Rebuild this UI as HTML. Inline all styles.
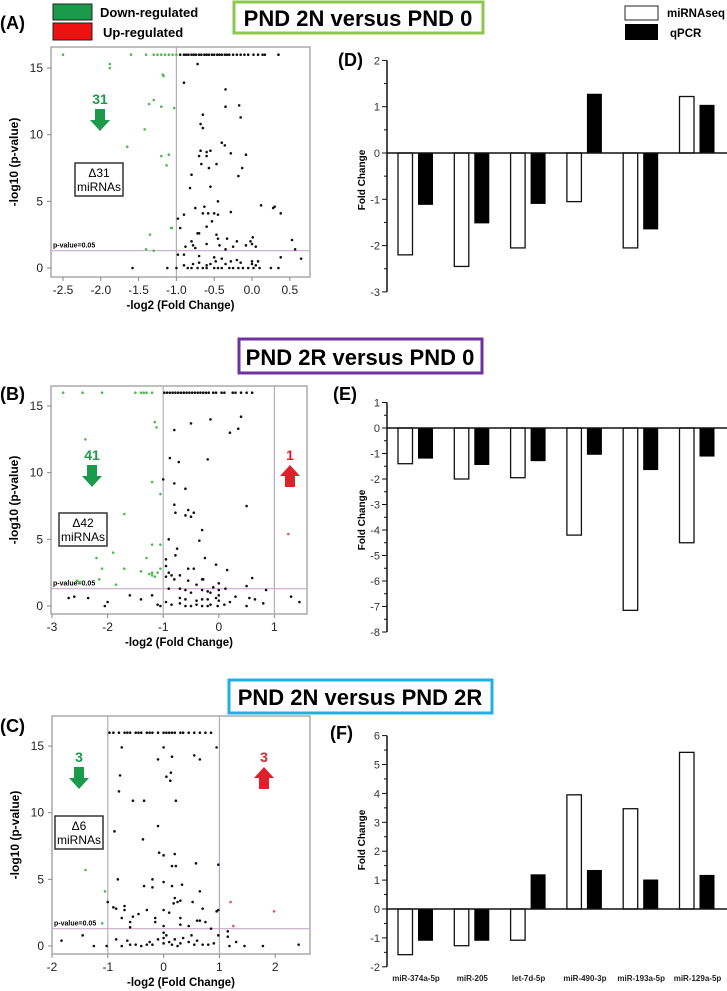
<!DOCTYPE html>
<html><head><meta charset="utf-8"><style>
body{margin:0;background:#fff;width:727px;height:991px;overflow:hidden}
svg{display:block;font-family:"Liberation Sans",Arial,sans-serif}
</style></head><body>
<svg id="fig" width="727" height="991" viewBox="0 0 727 991">
<g>
<rect x="53" y="4" width="39" height="16" fill="#1a9a4a" stroke="#222"/>
<text x="100" y="17" font-size="13" font-weight="bold">Down-regulated</text>
<rect x="53" y="23" width="39" height="17" fill="#ee1111" stroke="#222"/>
<text x="103" y="37" font-size="13" font-weight="bold">Up-regulated</text>
</g>
<g>
<rect x="625" y="6" width="33" height="14" fill="#fff" stroke="#222"/>
<text x="667" y="17" font-size="11.5" font-weight="bold" textLength="58" lengthAdjust="spacingAndGlyphs">miRNAseq</text>
<rect x="625" y="24" width="33" height="16" fill="#000"/>
<text x="670" y="37" font-size="11.5" font-weight="bold">qPCR</text>
</g>
<rect x="234" y="2" width="249" height="31" fill="#fff" stroke="#8cc84b" stroke-width="3"/>
<text x="358" y="26" font-size="22" font-weight="bold" text-anchor="middle">PND 2N versus PND 0</text>
<rect x="239" y="339" width="243" height="34" fill="#fff" stroke="#7030a0" stroke-width="3"/>
<text x="360" y="365" font-size="22" font-weight="bold" text-anchor="middle">PND 2R versus PND 0</text>
<rect x="229" y="680" width="263" height="33" fill="#fff" stroke="#1fb0e6" stroke-width="3"/>
<text x="360" y="705" font-size="22" font-weight="bold" text-anchor="middle">PND 2N versus PND 2R</text>
<text x="0" y="29" font-size="18" font-weight="bold">(A)</text>
<text x="338" y="66" font-size="18" font-weight="bold">(D)</text>
<text x="0" y="400" font-size="18" font-weight="bold">(B)</text>
<text x="333" y="400" font-size="18" font-weight="bold">(E)</text>
<text x="0" y="732" font-size="18" font-weight="bold">(C)</text>
<text x="330" y="739" font-size="18" font-weight="bold">(F)</text>
</svg>
<script>
const aGreen=[[-2.5,16],[-1.6,16],[-1.4,16],[-1.3,16],[-1.25,16],[-1.2,16],[-1.15,16],[-1.1,16],[-1.05,16],[-1.0,16],[-1.88,15.3],[-1.88,15],[-1.18,14.5],[-1.17,14.4],[-1.3,12.6],[-1.36,12.3],[-1.2,12.1],[-1.03,12],[-1.42,10.4],[-1.65,9.1],[-1.2,8.4],[-1.1,8.5],[-1.13,7.7],[-1.07,3],[-1.06,3],[-1.35,2.5],[-1.4,1.4],[-1.3,1.3]];
const aRed=[];
const aTopX=[-0.95,-0.9,-0.87,-0.84,-0.8,-0.77,-0.74,-0.7,-0.67,-0.63,-0.6,-0.57,-0.53,-0.5,-0.46,-0.43,-0.4,-0.36,-0.33,-0.3,-0.25,-0.2,-0.15,-0.1,-0.05,0.02,0.08,0.14,0.17,0.35];
const aBlack=[[-0.72,15.3],[-0.9,13.9],[-0.35,13.4],[-0.35,12.1],[-0.17,12.2],[-0.15,11.3],[-0.65,11.5],[-0.68,10.8],[-0.65,10.5],[-0.4,9.4],[-0.36,9.2],[-0.68,8.8],[-0.6,8.7],[-0.55,8.8],[-0.7,8.4],[-0.6,8.4],[-0.28,8.6],[-0.08,8.5],[-0.67,7.8],[-0.47,7.8],[-0.57,7.5],[-0.13,7.5],[-0.8,7],[-0.18,6.9],[-0.82,6],[-0.55,6.1],[-0.45,5],[0.12,4.7],[0.28,4.5],[0.3,4.6],[0.38,4.1],[-0.75,4.5],[-0.63,4.6],[-0.9,4],[-0.65,4.1],[-0.58,4.1],[-0.5,4.1],[-0.45,4],[-0.28,4.2],[-0.98,3.7],[-0.6,3.1],[-0.53,3.5],[-0.95,3],[-0.72,2.6],[-0.7,2.6],[-0.47,2.5],[-0.45,2.2],[-0.33,2.2],[-0.2,2],[-0.02,2],[0.01,2.3],[0.53,2.1],[-0.8,2],[-0.78,1.7],[-0.75,1.5],[-0.88,1.6],[-0.6,1.8],[-0.43,1.7],[-0.35,1.4],[-0.25,1.6],[-0.08,1.7],[0,1.8],[0.05,1.6],[0.57,1.4],[-0.9,1],[-0.98,1],[-0.7,0.9],[-0.5,0.8],[-0.4,0.7],[-0.2,0.6],[0,0.5],[0.38,0.8],[0.65,0.7],[-1.58,0],[-1.12,0],[-1.0,0],[-0.85,0],[-0.8,0],[-0.72,0],[-0.65,0],[-0.6,0],[-0.5,0],[-0.45,0],[-0.4,0],[-0.3,0],[-0.25,0],[-0.18,0],[-0.12,0],[-0.05,0],[0.02,0],[0.1,0],[0.25,0],[0.35,0],[-0.55,0.3],[-0.35,0.3],[-0.15,0.4],[0.05,0.2],[-0.7,0.4],[-0.9,0.2],[-0.48,0.5],[-0.28,0.5],[0.0,0.3],[0.08,0.5],[-0.6,0.2],[-0.78,0.3]];
const aXTicks=[-2.5,-2.0,-1.5,-1.0,-0.5,0,0.5];
const bGreen=[[-2.8,16],[-2.45,16],[-2.1,16],[-1.5,16],[-1.4,16],[-1.35,16],[-1.3,16],[-1.2,16],[-1.15,13.8],[-1.12,13.4],[-2.4,12.5],[-1.2,9.3],[-1.05,8.4],[-1.7,6.9],[-1.2,4.6],[-1.05,4.6],[-2.2,3.6],[-1.9,4],[-1.3,3.6],[-2.1,2.8],[-1.7,2.8],[-1.4,2.6],[-1.2,2.5],[-1.25,2.4],[-1.15,2.2],[-1.05,2.8],[-2.15,2],[-1.85,1.6],[-2.5,1.8],[-2.55,1.9],[-1.1,2.5],[-1.2,2.3]];
const bRed=[[1.25,5.4]];
const bTopX=[-0.98,-0.93,-0.88,-0.83,-0.78,-0.73,-0.68,-0.63,-0.58,-0.53,-0.48,-0.43,-0.38,-0.33,-0.28,-0.23,-0.18,-0.1,-0.05,0.05,0.1,0.25,0.3,0.4,0.5,0.6];
const bBlack=[[0.4,14.2],[-0.15,14],[0.35,13.3],[-0.5,13.7],[-0.8,13.2],[0.2,13],[-0.88,11.1],[-0.72,10.8],[-0.2,11],[-1.0,9.5],[-0.8,9.2],[-0.6,8.8],[-0.8,7.6],[-0.55,7.2],[-0.45,7],[-0.78,7],[-0.6,6.8],[-0.5,6.7],[0.5,7.5],[-0.3,5.7],[-0.9,5],[-0.35,4.9],[-0.75,4.3],[-0.78,3.8],[-0.25,3.6],[-0.95,3.5],[-0.05,3.1],[-0.45,2.8],[-0.55,2.8],[0.15,2.7],[-0.95,3],[-0.9,2.5],[-0.85,2.3],[-0.7,2.3],[-0.95,2.2],[-0.8,2],[-0.55,1.9],[-0.3,2],[-0.28,2],[0.6,2.1],[-0.4,1.6],[-0.1,1.4],[0.5,1.5],[0.85,1.2],[-0.9,1.3],[-0.7,1.3],[-0.6,1.2],[-0.5,1],[-0.3,1.2],[-0.2,1.1],[-0.15,1],[0,1.7],[0.12,1.3],[-0.7,0.6],[-0.6,0.5],[-0.4,0.4],[-0.2,0.5],[-0.05,0.6],[0.3,0.7],[0.55,0.6],[0.65,0.5],[0.8,0.2],[1.3,0.7],[1.45,0.3],[-2.7,0.6],[-2.6,0.7],[-2.35,0.6],[-2.05,0],[-2.0,0.3],[-1.6,0.8],[-1.4,0.5],[-1.05,0],[-0.95,0.3],[-0.6,0],[-0.5,0],[-0.4,0.1],[-0.3,0],[-0.2,0],[-0.02,0],[0,0.4],[0.2,0.3],[0.5,0],[-0.7,0.2],[-0.85,0.1],[-0.15,0.1],[0.0,0.8],[0.0,1.2],[-1.1,0.1],[-1.2,0.8],[-0.3,0.5],[0.1,0.1]];
const bXTicks=[-3,-2,-1,0,1];
const cGreen=[[-1.4,5.7],[-1.05,4.1],[-1.1,1.7]];
const cRed=[[1.2,3.3],[1.25,1.5],[1.98,2.6]];
const cTopX=[-0.97,-0.9,-0.8,-0.7,-0.65,-0.6,-0.5,-0.45,-0.4,-0.3,-0.25,-0.2,-0.1,0,0.05,0.1,0.15,0.2,0.3,0.35,0.45,0.55,0.65,0.75,0.85];
const cBlack=[[-0.75,14.9],[0,14.9],[0.95,14.9],[-0.1,14],[0.15,14.2],[0.55,14.3],[0.65,14],[-0.78,12.8],[0.05,12.7],[0.12,12.4],[0.13,13],[-0.8,11.6],[-0.55,10.9],[-0.35,10.9],[0.22,10.9],[-0.1,9],[-0.88,8.6],[-0.37,8],[-0.08,7],[0,6.8],[0.2,6.9],[0.15,6],[0.22,6],[0.58,6.2],[0.98,6.1],[-0.82,5],[-0.2,5],[-0.2,4.4],[0,4.8],[0.15,4.5],[0.33,4.6],[-0.35,4.5],[0.65,4.1],[-1.0,3.3],[0.2,3.6],[0.25,3.3],[0.3,3.4],[0.52,3.3],[-0.9,2.9],[-0.85,2.8],[-0.7,3],[-0.7,2.7],[-0.3,2.7],[0.0,2.7],[0.1,2.5],[0.18,3.2],[0.7,2.8],[0.95,2.6],[0.98,2.7],[-0.75,2.1],[-0.55,2.2],[-0.45,2.4],[-0.15,2.1],[0.3,2.1],[0.6,1.9],[0.65,1.9],[0.75,1.8],[-0.6,1.8],[-0.6,1.4],[-0.15,1.8],[0,1.5],[0.3,1.6],[0.45,1.5],[0.85,1.3],[0.98,0.8],[1.15,1.1],[1.15,0.7],[1.3,0.3],[1.45,0],[1.78,0],[2.42,0.1],[-1.83,0.4],[-1.45,0.8],[-1.25,0],[-1.02,0],[-0.85,0.5],[-0.75,0],[-0.6,0.1],[-0.5,0.1],[-0.4,0],[-0.3,0.1],[-0.2,0.1],[-0.1,0.5],[0,0.2],[0,0.6],[0,1],[0.05,0.8],[0.1,0.3],[0.15,0.1],[0.2,0.5],[0.3,0.2],[0.35,0.6],[0.45,0.3],[0.55,0.1],[0.6,0.4],[0.7,0.1],[0.8,0.1],[0.9,0.2],[-0.65,0.4],[-0.25,0.3],[0.25,0],[0.5,0.8],[1.18,0]];
const cXTicks=[-2,-1,0,1,2];
const volcanoYTicks=[0,5,10,15];
const categories=["miR-374a-5p","miR-205","let-7d-5p","miR-490-3p","miR-193a-5p","miR-129a-5p"];
const dSeq=[-2.2,-2.45,-2.05,-1.05,-2.05,1.22];
const dQpcr=[-1.12,-1.52,-1.1,1.28,-1.65,1.04];
const dTicks=[2,1,0,-1,-2,-3];
const eSeq=[-1.4,-2.0,-1.95,-4.2,-7.15,-4.5];
const eQpcr=[-1.2,-1.45,-1.3,-1.05,-1.65,-1.12];
const eTicks=[1,0,-1,-2,-3,-4,-5,-6,-7,-8];
const fSeq=[-1.58,-1.27,-1.08,3.95,3.47,5.42];
const fQpcr=[-1.1,-1.1,1.2,1.35,1.02,1.18];
const fTicks=[6,5,4,3,2,1,0,-1,-2];

const NS="http://www.w3.org/2000/svg";
const svg=document.getElementById('fig');
function mk(tag,attrs,parent,txt){const e=document.createElementNS(NS,tag);for(const k in attrs)e.setAttribute(k,attrs[k]);if(txt!==undefined)e.textContent=txt;(parent||svg).appendChild(e);return e;}

function volcano(o){
  const g=mk('g',{});
  
  
  const sx=v=>o.x0px+(v-o.x0)*o.kx, sy=v=>o.y0px-v*o.ky;
  const box=mk('rect',{x:o.L,y:o.T,width:o.R-o.L,height:o.B-o.T,fill:'#fff',stroke:'#aaa','stroke-width':1.5},g);
  
  
  o.vlines.forEach(v=>{const l=mk('line',{x1:sx(v),x2:sx(v),y1:o.T,y2:o.B,stroke:'#b9a9c9','stroke-width':1.2},g);
    
    });
  const pl=mk('line',{x1:o.L,x2:o.R,y1:sy(1.3),y2:sy(1.3),stroke:'#c9a9c9','stroke-width':1.2},g);
  
  
  const pt=mk('text',{x:o.L+2,y:sy(1.3)-3,'font-size':7,'font-weight':'bold'},g,'p-value=0.05');
  
  
  o.yt.forEach(v=>{mk('line',{x1:o.L-4,x2:o.L,y1:sy(v),y2:sy(v),stroke:'#888'},g);
    const t=mk('text',{x:o.L-8,y:sy(v)+4,'font-size':12,'text-anchor':'end',fill:'#222'},g,String(v));
    
    });
  o.xt.forEach(v=>{mk('line',{x1:sx(v),x2:sx(v),y1:o.B,y2:o.B+4,stroke:'#888'},g);
    const t=mk('text',{x:sx(v),y:o.B+17,'font-size':12,'text-anchor':'middle',fill:'#222'},g,o.fmt(v));
    
    });
  const xt=mk('text',{x:(o.L+o.R)/2,y:o.B+32,'font-size':11.5,'font-weight':'bold','text-anchor':'middle'},g,'-log2 (Fold Change)');
  
  
  const yc=(o.T+o.B)/2;
  const yt=mk('text',{x:0,y:0,'font-size':12,'font-weight':'bold','text-anchor':'middle',transform:`translate(${o.L-33},${yc}) rotate(-90)`},g,'-log10 (p-value)');
  
  
  const dot=(p,c,r)=>{const d=mk('circle',{cx:sx(p[0]),cy:sy(p[1]),r:r,fill:c},g);
    
    };
  o.top.forEach(x=>dot([x,16],'#111',1.3));
  o.black.forEach(p=>dot(p,'#111',1.3));
  o.green.forEach(p=>dot(p,'#4dbb4d',1.3));
  o.red.forEach(p=>dot(p,'#e8505b',1.3));
  const db=mk('rect',{x:o.db[0],y:o.db[1],width:48,height:33,fill:'#fff',stroke:'#333','stroke-width':1.5},g);
  
  
  const t1=mk('text',{x:o.db[0]+24,y:o.db[1]+14,'font-size':12,'text-anchor':'middle'},g,o.dtext);
  
  
  const t2=mk('text',{x:o.db[0]+24,y:o.db[1]+28,'font-size':12,'text-anchor':'middle'},g,'miRNAs');
  
  
  o.arrows.forEach(a=>{
    const n=mk('text',{x:a.x,y:a.y,'font-size':14,'font-weight':'bold','text-anchor':'middle',fill:a.c},g,a.n);
    
    
    const x=a.x,y=a.y+5;
    const pts=a.up?`${x},${y} ${x+10},${y+11} ${x+5},${y+11} ${x+5},${y+22} ${x-5},${y+22} ${x-5},${y+11} ${x-10},${y+11}`
                  :`${x-5},${y} ${x+5},${y} ${x+5},${y+11} ${x+10},${y+11} ${x},${y+22} ${x-10},${y+11} ${x-5},${y+11}`;
    const ar=mk('polygon',{points:pts,fill:a.c},g);
    
    
  });
}
volcano({name:'volcano-a',L:51,R:310,T:47,B:277,x0:-2.5,x0px:63,kx:75.6,y0px:268,ky:13.33,vlines:[-1],yt:volcanoYTicks,xt:aXTicks,fmt:v=>v.toFixed(1),
  top:aTopX,black:aBlack,green:aGreen,red:aRed,db:[75,163],dtext:'Δ31',arrows:[{x:100,y:104,n:'31',c:'#1a9a4a',up:false}]});
volcano({name:'volcano-b',L:51,R:307,T:386,B:614,x0:-3,x0px:52,kx:55.6,y0px:606,ky:13.33,vlines:[-1,1],yt:volcanoYTicks,xt:bXTicks,fmt:v=>String(v),
  top:bTopX,black:bBlack,green:bGreen,red:bRed,db:[59,513],dtext:'Δ42',arrows:[{x:92,y:460,n:'41',c:'#1a9a4a',up:false},{x:290,y:460,n:'1',c:'#e0202a',up:true}]});
volcano({name:'volcano-c',L:52,R:310,T:716,B:954,x0:-2,x0px:52,kx:55.8,y0px:946,ky:13.33,vlines:[-1,1],yt:volcanoYTicks,xt:cXTicks,fmt:v=>String(v),
  top:cTopX,black:cBlack,green:cGreen,red:cRed,db:[55,816],dtext:'Δ6',arrows:[{x:79,y:762,n:'3',c:'#1a9a4a',up:false},{x:264,y:762,n:'3',c:'#e0202a',up:true}]});

function bars(o){
  const g=mk('g',{});
  
  
  const sy=v=>o.zero-v*o.k;
  const ymax=Math.max(...o.ticks), ymin=Math.min(...o.ticks);
  mk('line',{x1:387,x2:387,y1:sy(ymax),y2:sy(ymin),stroke:'#111','stroke-width':1.5},g);
  for(let v=ymin;v<ymax;v+=1){mk('line',{x1:384,x2:387,y1:sy(v+0.5),y2:sy(v+0.5),stroke:'#111'},g);}
  o.ticks.forEach(v=>{mk('line',{x1:382,x2:387,y1:sy(v),y2:sy(v),stroke:'#111'},g);
    const t=mk('text',{x:380,y:sy(v)+4,'font-size':11,'text-anchor':'end',fill:'#333'},g,String(v));
    
    });
  const yt=mk('text',{x:0,y:0,'font-size':10,'font-weight':'bold','text-anchor':'middle',transform:`translate(${o.ytx},${o.ytc}) rotate(-90)`},g,'Fold Change');
  
  
  const step=56.3;
  o.seq.forEach((v,i)=>{const x=398+i*step;const r=mk('rect',{x:x,y:Math.min(sy(0),sy(v)),width:14.5,height:Math.abs(sy(v)-sy(0)),fill:'#fff',stroke:'#111','stroke-width':1.3},g);
    
    });
  o.qpcr.forEach((v,i)=>{const x=418+i*step;const r=mk('rect',{x:x,y:Math.min(sy(0),sy(v)),width:15,height:Math.abs(sy(v)-sy(0)),fill:'#000'},g);
    
    });
  const zl=mk('line',{x1:387,x2:727,y1:sy(0),y2:sy(0),stroke:'#111','stroke-width':1.5},g);
  
  
  if(o.labels){categories.forEach((c,i)=>{const t=mk('text',{x:416+i*step,y:981,'font-size':8,'font-weight':'bold','text-anchor':'middle',fill:'#222'},g,c);
    
    });}
}
bars({name:'bar-chart-d',zero:153,k:46.3,ticks:dTicks,seq:dSeq,qpcr:dQpcr,ytx:365,ytc:180});
bars({name:'bar-chart-e',zero:428,k:25.5,ticks:eTicks,seq:eSeq,qpcr:eQpcr,ytx:365,ytc:520});
bars({name:'bar-chart-f',zero:909,k:28.9,ticks:fTicks,seq:fSeq,qpcr:fQpcr,ytx:365,ytc:840,labels:true});
</script>
</body></html>
